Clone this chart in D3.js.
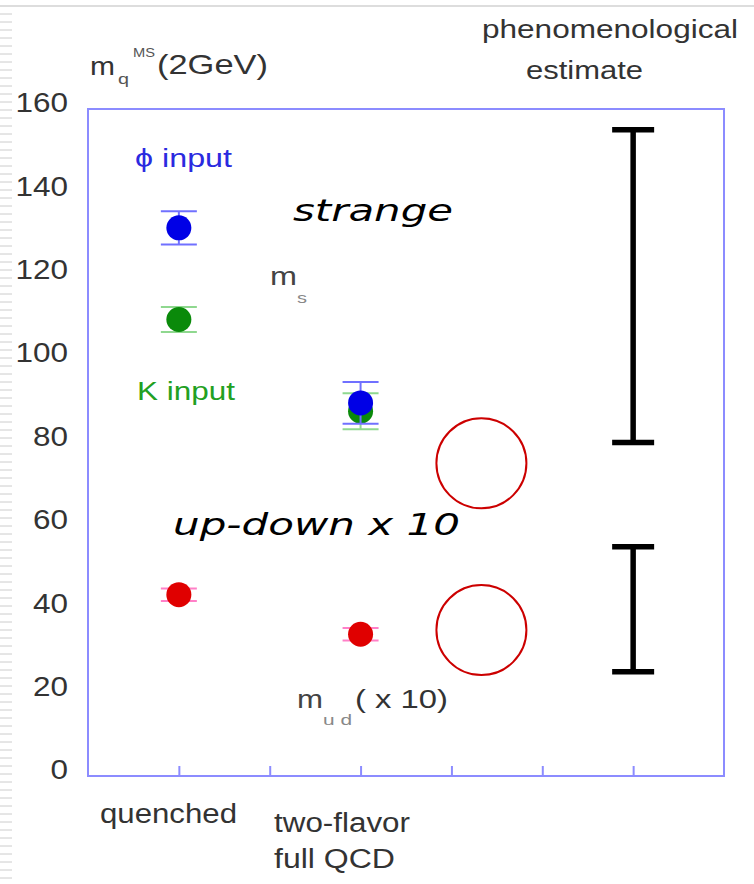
<!DOCTYPE html>
<html>
<head>
<meta charset="utf-8">
<script src="https://cdn.jsdelivr.net/npm/d3@7"></script>
<style>
  body { margin: 0; background: #fff; }
  svg { display: block; font-family: "Liberation Sans", Arial, sans-serif; }
</style>
</head>
<body>
<div id="chart"></div>
<script>
// data
var groups = ['quenched', 'two-flavor', 'full QCD']
var groupPos = [1, 3]
var phiInput = [{v: 131.5, e: 4}, {v: 89.5, e: 5}]
var kInput = [{v: 109.5, e: 3}, {v: 87.5, e: 4.3}]
var upDown = [{v: 43.5, e: 1.5}, {v: 34, e: 1.5}]
var phenoPos = 6
var phenoRanges = [[80, 155], [25, 55]]
var circlePos = 4.33
var circleVals = [75, 35]
var yTicks = [0, 20, 40, 60, 80, 100, 120, 140, 160]
var xTicks = [1, 2, 3, 4, 5, 6]

var width = 754, height = 884

var svg = d3.select("#chart").append("svg")
    .attr("width", width)
    .attr("height", height)

// slide decoration: top rule and left dashes
svg.append("line")
    .attr("x1", 0).attr("x2", width).attr("y1", 6).attr("y2", 6)
    .style("stroke", "#ddd").style("stroke-width", 2)
svg.append("g").selectAll("line")
    .data(d3.range(14, height, 8)).enter()
    .append("line")
    .attr("x1", 0).attr("x2", 12)
    .attr("y1", d => d).attr("y2", d => d)
    .style("stroke", "#ccc").style("stroke-width", 1)

var xScale = d3.scaleLinear()
    .domain([0, 7])
    .range([88, 724])

var yScale = d3.scaleLinear()
    .domain([0, 160])
    .range([776, 109])

var axisColor = "#8c8cff"

// plot box
svg.append("rect")
    .attr("x", xScale(0)).attr("y", yScale(160))
    .attr("width", xScale(7) - xScale(0))
    .attr("height", yScale(0) - yScale(160))
    .style("fill", "none").style("stroke", axisColor).style("stroke-width", 2)

/* axes */
var xAxis = d3.axisBottom(xScale).tickValues(xTicks).tickSize(-10).tickFormat("")
svg.append("g")
    .attr("class", "x axis")
    .attr("transform", `translate(0, ${yScale(0)})`)
    .call(xAxis)
    .call(g => g.select(".domain").remove())
    .selectAll("line")
        .style("stroke", axisColor).style("stroke-width", 2)

var yAxis = d3.axisLeft(yScale).tickValues(yTicks).tickSize(0).tickPadding(20)
svg.append("g")
    .attr("class", "y axis")
    .attr("transform", `translate(${xScale(0)}, 0)`)
    .call(yAxis)
    .call(g => g.select(".domain").remove())
    .selectAll("text")
        .attr("dy", "0.1em")
        .attr("textLength", d => String(d).length * 17.5)
        .attr("lengthAdjust", "spacingAndGlyphs")
        .style("font-size", "28px")
        .style("font-family", '"Liberation Sans", Arial, sans-serif')
        .style("fill", "#333")

// error bar + marker
var drawSeries = (data, color, barColor) => {
    var g = svg.append("g")
    var pts = g.selectAll("g").data(data).enter().append("g")
    pts.append("line")
        .attr("x1", (d, i) => xScale(groupPos[i])).attr("x2", (d, i) => xScale(groupPos[i]))
        .attr("y1", d => yScale(d.v + d.e)).attr("y2", d => yScale(d.v - d.e))
        .style("stroke", barColor).style("stroke-width", 2)
    ;[1, -1].forEach(s => {
        pts.append("line")
            .attr("x1", (d, i) => xScale(groupPos[i]) - 18).attr("x2", (d, i) => xScale(groupPos[i]) + 18)
            .attr("y1", d => yScale(d.v + s * d.e)).attr("y2", d => yScale(d.v + s * d.e))
            .style("stroke", barColor).style("stroke-width", 2)
    })
    pts.append("ellipse")
        .attr("cx", (d, i) => xScale(groupPos[i]))
        .attr("cy", d => yScale(d.v))
        .attr("rx", 12.5).attr("ry", 12.5)
        .style("fill", color)
}
drawSeries(kInput, "#0a8a0a", "#8fd88f")
drawSeries(phiInput, "#0000e6", "#7070ff")
drawSeries(upDown, "#e00000", "#ff80c8")

// phenomenological estimate bars
var pheno = svg.append("g")
pheno.selectAll("g").data(phenoRanges).enter().append("g")
    .each(function (d) {
        var g = d3.select(this)
        var x = xScale(phenoPos)
        g.append("line").attr("x1", x).attr("x2", x)
            .attr("y1", yScale(d[1])).attr("y2", yScale(d[0]))
        g.append("line").attr("x1", x - 21).attr("x2", x + 21)
            .attr("y1", yScale(d[1])).attr("y2", yScale(d[1]))
        g.append("line").attr("x1", x - 21).attr("x2", x + 21)
            .attr("y1", yScale(d[0])).attr("y2", yScale(d[0]))
        g.selectAll("line").style("stroke", "#000").style("stroke-width", 5.5)
    })

// red circles
svg.append("g").selectAll("circle")
    .data(circleVals).enter()
    .append("circle")
    .attr("cx", xScale(circlePos))
    .attr("cy", d => yScale(d))
    .attr("r", 45)
    .style("fill", "none").style("stroke", "#cc0000").style("stroke-width", 2)

/* labels: the slide text is stretched sideways, so widths are forced */
var txt = (x, y, s, size, w, color) => svg.append("text")
    .attr("x", x).attr("y", y)
    .attr("textLength", w)
    .attr("lengthAdjust", "spacingAndGlyphs")
    .style("font-size", size + "px").style("fill", color || "#333")
    .text(s)

txt(90, 75, "m", 26, 25)
txt(118, 84, "q", 15, 11, "#555")
txt(133, 57, "MS", 13, 22, "#555")
txt(157, 74, "(2GeV)", 28, 111)

txt(482, 38, "phenomenological", 25, 256)
txt(526, 79, "estimate", 25, 117)

txt(135, 167, "\u03d5 input", 25, 97, "#2a2ae0")
txt(137, 400, "K input", 25, 98, "#22a022")

var italic = t => t.style("font-family", '"DejaVu Sans", Verdana, sans-serif').style("font-style", "italic")
italic(txt(293, 221, "strange", 30, 160, "#000"))
italic(txt(173, 535, "up-down x 10", 31, 287, "#000"))

txt(270, 285, "m", 25, 27, "#444")
txt(297, 303, "s", 14, 10, "#888")

txt(297, 708, "m", 25, 26, "#444")
txt(323, 725, "u d", 15, 29, "#888")
txt(355, 708, "( x 10)", 26, 93, "#333")

txt(100, 823, groups[0], 27, 137)
txt(274, 832, groups[1], 27, 136)
txt(274, 868, groups[2], 27, 121)
</script>
</body>
</html>
